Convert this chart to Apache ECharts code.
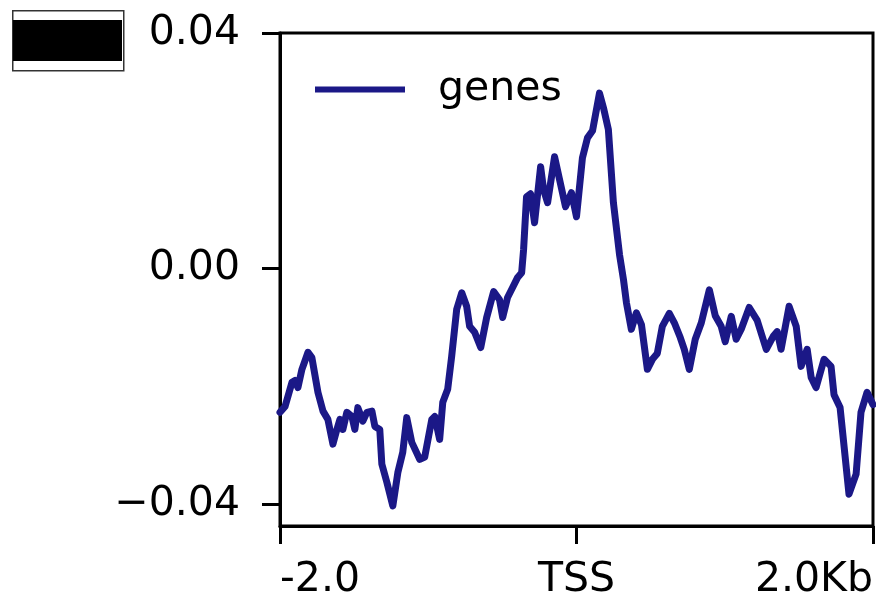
<!DOCTYPE html>
<html>
<head>
<meta charset="utf-8">
<script src="https://cdn.jsdelivr.net/npm/echarts@6/dist/echarts.min.js"></script>
<style>html,body{margin:0;padding:0;background:#fff;}#chart{width:876px;height:601px;}</style>
</head>
<body>
<div id="chart"></div>
<script>
// Positions relative to TSS (bp)
const positions = [-2000,-1966,-1919,-1899,-1879,-1852,-1811,-1785,-1744,-1710,-1677,-1643,-1616,-1596,-1576,-1549,-1515,-1495,-1475,-1441,-1414,-1380,-1360,-1327,-1313,-1279,-1239,-1205,-1172,-1145,-1111,-1057,-1024,-976,-956,-923,-902,-869,-842,-808,-774,-741,-721,-687,-646,-606,-559,-519,-498,-465,-431,-397,-370,-357,-337,-310,-283,-242,-222,-195,-148,-114,-74,-34,0,40,74,108,155,182,215,249,290,317,337,370,404,438,478,512,545,579,626,660,700,727,761,801,842,896,936,976,1003,1044,1077,1111,1165,1219,1280,1327,1354,1380,1434,1482,1515,1556,1583,1616,1670,1717,1737,1778,1838,1886,1919,1960,2000];
// Signal values for "genes"
const genes = [-0.0244,-0.0234,-0.0193,-0.0190,-0.0202,-0.0171,-0.0142,-0.0151,-0.0210,-0.0242,-0.0256,-0.0298,-0.0273,-0.0256,-0.0273,-0.0244,-0.0251,-0.0273,-0.0236,-0.0259,-0.0244,-0.0242,-0.0268,-0.0273,-0.0332,-0.0363,-0.0403,-0.0346,-0.0312,-0.0253,-0.0295,-0.0324,-0.0320,-0.0256,-0.0251,-0.0290,-0.0227,-0.0205,-0.0149,-0.0069,-0.0041,-0.0064,-0.0098,-0.0108,-0.0134,-0.0083,-0.0039,-0.0053,-0.0083,-0.0049,-0.0032,-0.0015,-0.0007,0.0032,0.0122,0.0127,0.0078,0.0173,0.0134,0.0112,0.0190,0.0151,0.0105,0.0129,0.0088,0.0188,0.0222,0.0234,0.0298,0.0273,0.0236,0.0112,0.0024,-0.0019,-0.0058,-0.0103,-0.0075,-0.0095,-0.0171,-0.0154,-0.0144,-0.0098,-0.0076,-0.0092,-0.0117,-0.0137,-0.0171,-0.0120,-0.0092,-0.0036,-0.0080,-0.0098,-0.0124,-0.0081,-0.0120,-0.0103,-0.0066,-0.0088,-0.0137,-0.0115,-0.0107,-0.0137,-0.0064,-0.0098,-0.0166,-0.0137,-0.0185,-0.0202,-0.0154,-0.0166,-0.0214,-0.0236,-0.0383,-0.0349,-0.0244,-0.0210,-0.0231];
const xTicks = [-2000, 0, 2000];
const xTickLabels = ['-2.0', 'TSS', '2.0Kb'];
const yTicks = [-0.04, 0, 0.04];
const yTickLabels = ['\u22120.04', '0.00', '0.04'];
const seriesName = 'genes';

const chart = echarts.init(document.getElementById('chart'), null, {renderer: 'canvas'});
const font = 'DejaVu Sans';
const lineColor = '#1b1887';
chart.setOption({
  animation: false,
  backgroundColor: '#fff',
  textStyle: {fontFamily: font},
  grid: {left: 280, right: 2, top: 33, bottom: 74, show: true, borderColor: '#000', borderWidth: 3, containLabel: false},
  legend: {
    left: 310, top: 64, icon: 'rect', itemWidth: 90, itemHeight: 6,
    textStyle: {fontSize: 41, color: '#000', fontFamily: font, padding: [4, 0, 0, 28]},
    data: [seriesName]
  },
  xAxis: {
    type: 'value', min: -2000, max: 2000,
    axisLine: {show: true, onZero: false, lineStyle: {color: '#000', width: 3}},
    axisTick: {show: true, length: 18, lineStyle: {color: '#000', width: 3}, customValues: xTicks},
    splitLine: {show: false},
    axisLabel: {
      customValues: xTicks, fontSize: 41, color: '#000', fontFamily: font, margin: 34,
      alignMinLabel: 'left', alignMaxLabel: 'right',
      formatter: v => xTickLabels[xTicks.indexOf(v)] ?? ''
    }
  },
  yAxis: {
    type: 'value', min: -0.0437, max: 0.04,
    axisLine: {show: true, onZero: false, lineStyle: {color: '#000', width: 3}},
    axisTick: {show: true, length: 18, lineStyle: {color: '#000', width: 3}, customValues: yTicks},
    splitLine: {show: false},
    axisLabel: {
      customValues: yTicks, fontSize: 41, color: '#000', fontFamily: font, margin: 40,
      formatter: v => { const i = yTicks.findIndex(t => Math.abs(t - v) < 1e-9); return i >= 0 ? yTickLabels[i] : ''; }
    }
  },
  graphic: [
    {type: 'rect', left: 12, top: 10, shape: {width: 111, height: 60}, style: {fill: '#fff', stroke: '#333', lineWidth: 1.5}},
    {type: 'rect', left: 13, top: 20, shape: {width: 109, height: 41}, style: {fill: '#000'}}
  ],
  series: [{
    name: seriesName, type: 'line', showSymbol: false, symbol: 'none',
    data: positions.map((p, i) => [p, genes[i]]),
    lineStyle: {color: lineColor, width: 7, join: 'round', cap: 'round'},
    itemStyle: {color: lineColor},
    clip: true
  }]
});
</script>
</body>
</html>
